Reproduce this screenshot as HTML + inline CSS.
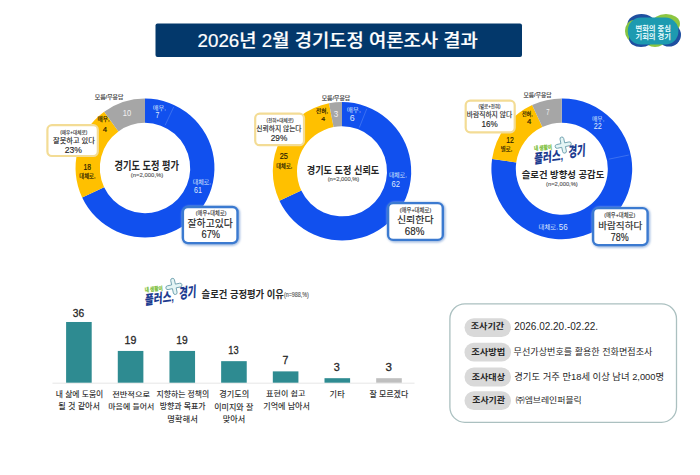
<!DOCTYPE html>
<html><head><meta charset="utf-8"><style>
html,body{margin:0;padding:0;background:#fff;width:700px;height:475px;overflow:hidden}
svg{display:block;font-family:"Liberation Sans","Noto Sans CJK KR",sans-serif}
</style></head><body>
<svg width="700" height="475" viewBox="0 0 700 475">
<defs><filter id="blur" x="-10%" y="-10%" width="120%" height="120%"><feGaussianBlur stdDeviation="0.8"/></filter></defs>
<rect x="155.5" y="23.5" width="366.5" height="33.5" rx="2" fill="#03386b"/>
<path d="M145.00,98.55 A69.45,69.45 0 1 1 82.16,197.57 L104.10,187.25 A45.2,45.2 0 1 0 145.00,122.80 Z" fill="#1150ee"/>
<path d="M82.16,197.57 A69.45,69.45 0 0 1 104.18,111.81 L118.43,131.43 A45.2,45.2 0 0 0 104.10,187.25 Z" fill="#ffc000"/>
<path d="M104.18,111.81 A69.45,69.45 0 0 1 145.00,98.55 L145.00,122.80 A45.2,45.2 0 0 0 118.43,131.43 Z" fill="#a6a6a6"/>
<line x1="165.10" y1="125.29" x2="173.72" y2="106.97" stroke="#5585f2" stroke-width="0.6"/>
<path d="M342.00,102.10 A69.2,69.2 0 1 1 279.39,200.76 L301.28,190.46 A45,45 0 1 0 342.00,126.30 Z" fill="#1150ee"/>
<path d="M279.39,200.76 A69.2,69.2 0 0 1 329.03,103.33 L333.57,127.10 A45,45 0 0 0 301.28,190.46 Z" fill="#ffc000"/>
<path d="M329.03,103.33 A69.2,69.2 0 0 1 342.00,102.10 L342.00,126.30 A45,45 0 0 0 333.57,127.10 Z" fill="#a6a6a6"/>
<line x1="359.30" y1="127.60" x2="366.74" y2="108.82" stroke="#5585f2" stroke-width="0.6"/>
<path d="M561.80,98.40 A70.4,70.4 0 1 1 492.09,158.98 L516.25,162.38 A46,46 0 1 0 561.80,122.80 Z" fill="#1150ee"/>
<path d="M492.09,158.98 A70.4,70.4 0 0 1 532.10,104.97 L542.40,127.09 A46,46 0 0 0 516.25,162.38 Z" fill="#ffc000"/>
<path d="M532.10,104.97 A70.4,70.4 0 0 1 561.80,98.40 L561.80,122.80 A46,46 0 0 0 542.40,127.09 Z" fill="#a6a6a6"/>
<line x1="608.82" y1="159.16" x2="628.81" y2="155.06" stroke="#5585f2" stroke-width="0.6"/>
<rect x="47.400000000000006" y="125.2" width="50.4" height="30.79999999999999" rx="4.5" fill="#fff" stroke="#f3dc95" stroke-width="2.2"/>
<rect x="183.70" y="207.80" width="54.60" height="36.10" rx="5.5" fill="none" stroke="#9fb9e0" stroke-width="3.5999999999999996" filter="url(#blur)"/><rect x="182.90" y="207.00" width="54.60" height="36.10" rx="5" fill="#fff" stroke="#3b7ad0" stroke-width="2.4"/>
<rect x="255.2" y="113.60000000000001" width="48.79999999999999" height="31.6" rx="4.5" fill="#fff" stroke="#f3dc95" stroke-width="2.2"/>
<rect x="388.90" y="203.90" width="54.70" height="36.80" rx="5.5" fill="none" stroke="#9fb9e0" stroke-width="3.5999999999999996" filter="url(#blur)"/><rect x="388.10" y="203.10" width="54.70" height="36.80" rx="5" fill="#fff" stroke="#3b7ad0" stroke-width="2.4"/>
<rect x="465.7" y="100.60000000000001" width="48.99999999999998" height="31.699999999999996" rx="4.5" fill="#fff" stroke="#f3dc95" stroke-width="2.2"/>
<rect x="593.90" y="208.90" width="54.50" height="37.00" rx="5.5" fill="none" stroke="#9fb9e0" stroke-width="3.5999999999999996" filter="url(#blur)"/><rect x="593.10" y="208.10" width="54.50" height="37.00" rx="5" fill="#fff" stroke="#3b7ad0" stroke-width="2.4"/>
<g transform="translate(533.6,137)">
<path transform="translate(29.6,8.1) rotate(-12)" d="M-1.9,-6.299999999999999 a1.9,1.9 0 0 1 3.8,0 L1.9,-1.9 L6.299999999999999,-1.9 a1.9,1.9 0 0 1 0,3.8 L1.9,1.9 L1.9,6.299999999999999 a1.9,1.9 0 0 1 -3.8,0 L-1.9,1.9 L-6.299999999999999,1.9 a1.9,1.9 0 0 1 0,-3.8 L-1.9,-1.9 Z" fill="#e4f5f5" stroke="#5f95a6" stroke-width="0.8" stroke-linejoin="round"/>
<g transform="translate(0.6,13.6) rotate(-5)"><text x="0" y="0" font-size="5.8" fill="#7dbf3c" stroke="#7dbf3c" stroke-width="0.25" font-weight="bold" textLength="18" lengthAdjust="spacingAndGlyphs">내 생활이</text></g>
<g transform="translate(0.4,26.8) rotate(-8) skewX(-10)"><text x="0" y="0" font-size="13" fill="#1c3b8f" font-weight="900" textLength="29.5" lengthAdjust="spacingAndGlyphs">플러스,</text></g>
<g transform="translate(34.6,20.6) rotate(-8) skewX(-10)"><text x="0" y="0" font-size="14.5" fill="#1c3b8f" font-weight="900" textLength="17.5" lengthAdjust="spacingAndGlyphs">경기</text></g>
</g>
<g transform="translate(144.3,278.3)">
<path transform="translate(29.6,8.1) rotate(-12)" d="M-1.9,-6.299999999999999 a1.9,1.9 0 0 1 3.8,0 L1.9,-1.9 L6.299999999999999,-1.9 a1.9,1.9 0 0 1 0,3.8 L1.9,1.9 L1.9,6.299999999999999 a1.9,1.9 0 0 1 -3.8,0 L-1.9,1.9 L-6.299999999999999,1.9 a1.9,1.9 0 0 1 0,-3.8 L-1.9,-1.9 Z" fill="#e4f5f5" stroke="#5f95a6" stroke-width="0.8" stroke-linejoin="round"/>
<g transform="translate(0.6,13.6) rotate(-5)"><text x="0" y="0" font-size="5.8" fill="#7dbf3c" stroke="#7dbf3c" stroke-width="0.25" font-weight="bold" textLength="18" lengthAdjust="spacingAndGlyphs">내 생활이</text></g>
<g transform="translate(0.4,26.8) rotate(-8) skewX(-10)"><text x="0" y="0" font-size="13" fill="#1c3b8f" font-weight="900" textLength="29.5" lengthAdjust="spacingAndGlyphs">플러스,</text></g>
<g transform="translate(34.6,20.6) rotate(-8) skewX(-10)"><text x="0" y="0" font-size="14.5" fill="#1c3b8f" font-weight="900" textLength="17.5" lengthAdjust="spacingAndGlyphs">경기</text></g>
</g>
<line x1="52.5" y1="383.2" x2="414.5" y2="383.2" stroke="#e3e3e3" stroke-width="0.9"/>
<rect x="66.10" y="321.99" width="25.6" height="60.71" fill="#2e8b91"/>
<rect x="117.78" y="350.94" width="25.6" height="31.76" fill="#2e8b91"/>
<rect x="169.46" y="350.94" width="25.6" height="31.76" fill="#2e8b91"/>
<rect x="221.14" y="361.16" width="25.6" height="21.54" fill="#2e8b91"/>
<rect x="272.82" y="371.38" width="25.6" height="11.32" fill="#2e8b91"/>
<rect x="324.50" y="378.19" width="25.6" height="4.51" fill="#2e8b91"/>
<rect x="376.18" y="378.19" width="25.6" height="4.51" fill="#bfbfbf"/>
<rect x="449.9" y="303.9" width="226.6" height="118.4" rx="15" fill="#fff" stroke="#abc0c0" stroke-width="1.3"/>
<rect x="464.5" y="318.20" width="46.5" height="18.8" rx="9.4" fill="#d9d9d9"/>
<rect x="464.5" y="342.80" width="46.5" height="18.8" rx="9.4" fill="#d9d9d9"/>
<rect x="464.5" y="367.60" width="46.5" height="18.8" rx="9.4" fill="#d9d9d9"/>
<rect x="464.5" y="391.30" width="46.5" height="18.8" rx="9.4" fill="#d9d9d9"/>
<g>
<ellipse cx="641.5" cy="24" rx="14" ry="10" fill="#1f4fa0"/>
<ellipse cx="666" cy="23.8" rx="14" ry="9.8" fill="#8dc641"/>
<ellipse cx="634" cy="31" rx="9" ry="11" fill="#86c443"/>
<ellipse cx="669" cy="35" rx="12" ry="11.5" fill="#1f4fa0"/>
<ellipse cx="655" cy="40" rx="10" ry="7" fill="#8dc641"/>
<ellipse cx="641" cy="39" rx="12" ry="8" fill="#1f4fa0"/>
<rect x="627.8" y="17.6" width="50.6" height="27" rx="13" fill="#1d9ab0"/>
<text x="653.2" y="30.8" font-size="7.4" fill="#eafcff" font-weight="bold" text-anchor="middle" textLength="35.5" lengthAdjust="spacingAndGlyphs">변화의 중심</text>
<text x="653.2" y="38.6" font-size="7.4" fill="#eafcff" font-weight="bold" text-anchor="middle" textLength="35.5" lengthAdjust="spacingAndGlyphs">기회의 경기</text>
</g>
<text id="title" stroke="#ffffff" stroke-width="0.2" x="337.60" y="46.52" font-size="17.72" font-weight="500" fill="#ffffff" text-anchor="middle" textLength="280.15" lengthAdjust="spacingAndGlyphs">2026년 2월 경기도정 여론조사 결과</text>
<text id="d1_mr" stroke="#333333" stroke-width="0.15" x="109.06" y="98.79" font-size="5.40" font-weight="normal" fill="#333333" text-anchor="middle" textLength="28.53" lengthAdjust="spacingAndGlyphs">모름/무응답</text>
<text id="d1_g" x="127.02" y="116.29" font-size="8.86" font-weight="normal" fill="#f2f2f2" text-anchor="middle" textLength="8.41" lengthAdjust="spacingAndGlyphs">10</text>
<text id="d1_ya" stroke="#2a2000" stroke-width="0.18" x="103.58" y="121.13" font-size="5.35" font-weight="normal" fill="#2a2000" text-anchor="middle" textLength="12.16" lengthAdjust="spacingAndGlyphs">매우,</text>
<text id="d1_yn" stroke="#2a2000" stroke-width="0.18" x="104.85" y="131.53" font-size="6.86" font-weight="normal" fill="#2a2000" text-anchor="middle" textLength="4.32" lengthAdjust="spacingAndGlyphs">4</text>
<text id="d1_y2n" stroke="#2a2000" stroke-width="0.18" x="87.25" y="170.05" font-size="8.47" font-weight="normal" fill="#2a2000" text-anchor="middle" textLength="7.51" lengthAdjust="spacingAndGlyphs">18</text>
<text id="d1_y2a" stroke="#2a2000" stroke-width="0.18" x="87.38" y="177.81" font-size="5.35" font-weight="normal" fill="#2a2000" text-anchor="middle" textLength="16.10" lengthAdjust="spacingAndGlyphs">대체로,</text>
<text id="d1_ba" x="159.48" y="109.98" font-size="5.35" font-weight="normal" fill="#dfe8fc" text-anchor="middle" textLength="13.26" lengthAdjust="spacingAndGlyphs">매우,</text>
<text id="d1_bn" x="157.46" y="117.73" font-size="8.34" font-weight="normal" fill="#dfe8fc" text-anchor="middle" textLength="3.89" lengthAdjust="spacingAndGlyphs">7</text>
<text id="d1_b2a" x="201.83" y="184.00" font-size="5.35" font-weight="normal" fill="#dfe8fc" text-anchor="middle" textLength="18.41" lengthAdjust="spacingAndGlyphs">대체로,</text>
<text id="d1_b2n" x="198.00" y="192.98" font-size="8.29" font-weight="normal" fill="#dfe8fc" text-anchor="middle" textLength="7.89" lengthAdjust="spacingAndGlyphs">61</text>
<text id="d1_c" x="146.75" y="170.27" font-size="11.07" font-weight="bold" fill="#262626" text-anchor="middle" textLength="64.47" lengthAdjust="spacingAndGlyphs">경기도 도정 평가</text>
<text id="d1_n" stroke="#595959" stroke-width="0.15" x="147.06" y="176.58" font-size="6.09" font-weight="normal" fill="#595959" text-anchor="middle" textLength="32.43" lengthAdjust="spacingAndGlyphs">(n=2,000,%)</text>
<text id="d1_ys" stroke="#2e2e2e" stroke-width="0.1" x="73.73" y="134.49" font-size="5.00" font-weight="normal" fill="#2e2e2e" text-anchor="middle" textLength="27.02" lengthAdjust="spacingAndGlyphs">(매우+대체로)</text>
<text id="d1_ym" stroke="#262626" stroke-width="0.15" x="74.00" y="142.80" font-size="6.72" font-weight="normal" fill="#262626" text-anchor="middle" textLength="41.79" lengthAdjust="spacingAndGlyphs">잘못하고 있다</text>
<text id="d1_yp" stroke="#262626" stroke-width="0.15" x="73.33" y="153.20" font-size="9.87" font-weight="normal" fill="#262626" text-anchor="middle" textLength="17.25" lengthAdjust="spacingAndGlyphs">23%</text>
<text id="d1_bs" stroke="#2e2e2e" stroke-width="0.1" x="211.16" y="215.26" font-size="5.40" font-weight="normal" fill="#2e2e2e" text-anchor="middle" textLength="30.60" lengthAdjust="spacingAndGlyphs">(매우+대체로)</text>
<text id="d1_bm" stroke="#262626" stroke-width="0.15" x="210.15" y="227.00" font-size="9.78" font-weight="normal" fill="#262626" text-anchor="middle" textLength="45.09" lengthAdjust="spacingAndGlyphs">잘하고있다</text>
<text id="d1_bp" stroke="#262626" stroke-width="0.15" x="210.84" y="238.36" font-size="10.01" font-weight="normal" fill="#262626" text-anchor="middle" textLength="18.50" lengthAdjust="spacingAndGlyphs">67%</text>
<text id="d2_mr" stroke="#333333" stroke-width="0.15" x="335.95" y="99.62" font-size="5.40" font-weight="normal" fill="#333333" text-anchor="middle" textLength="28.43" lengthAdjust="spacingAndGlyphs">모름/무응답</text>
<text id="d2_g" x="335.91" y="116.74" font-size="8.34" font-weight="normal" fill="#f2f2f2" text-anchor="middle" textLength="4.50" lengthAdjust="spacingAndGlyphs">3</text>
<text id="d2_ya" stroke="#2a2000" stroke-width="0.18" x="322.10" y="112.71" font-size="5.35" font-weight="normal" fill="#2a2000" text-anchor="middle" textLength="12.02" lengthAdjust="spacingAndGlyphs">전혀,</text>
<text id="d2_yn" stroke="#2a2000" stroke-width="0.18" x="323.27" y="120.75" font-size="5.84" font-weight="normal" fill="#2a2000" text-anchor="middle" textLength="3.91" lengthAdjust="spacingAndGlyphs">4</text>
<text id="d2_y2n" stroke="#2a2000" stroke-width="0.18" x="283.73" y="158.83" font-size="9.20" font-weight="normal" fill="#2a2000" text-anchor="middle" textLength="8.21" lengthAdjust="spacingAndGlyphs">25</text>
<text id="d2_y2a" stroke="#2a2000" stroke-width="0.18" x="284.23" y="168.00" font-size="5.35" font-weight="normal" fill="#2a2000" text-anchor="middle" textLength="15.93" lengthAdjust="spacingAndGlyphs">대체로,</text>
<text id="d2_ba" x="353.76" y="111.90" font-size="5.35" font-weight="normal" fill="#dfe8fc" text-anchor="middle" textLength="14.12" lengthAdjust="spacingAndGlyphs">매우,</text>
<text id="d2_bn" x="352.14" y="120.81" font-size="8.86" font-weight="normal" fill="#dfe8fc" text-anchor="middle" textLength="4.95" lengthAdjust="spacingAndGlyphs">6</text>
<text id="d2_b2a" x="397.90" y="177.40" font-size="5.35" font-weight="normal" fill="#dfe8fc" text-anchor="middle" textLength="17.90" lengthAdjust="spacingAndGlyphs">대체로,</text>
<text id="d2_b2n" x="395.65" y="186.95" font-size="8.86" font-weight="normal" fill="#dfe8fc" text-anchor="middle" textLength="8.45" lengthAdjust="spacingAndGlyphs">62</text>
<text id="d2_c" x="343.00" y="174.37" font-size="10.71" font-weight="bold" fill="#262626" text-anchor="middle" textLength="72.50" lengthAdjust="spacingAndGlyphs">경기도 도정 신뢰도</text>
<text id="d2_n" stroke="#595959" stroke-width="0.15" x="343.51" y="181.33" font-size="5.95" font-weight="normal" fill="#595959" text-anchor="middle" textLength="31.59" lengthAdjust="spacingAndGlyphs">(n=2,000,%)</text>
<text id="d2_ys" stroke="#2e2e2e" stroke-width="0.1" x="280.00" y="121.90" font-size="5.00" font-weight="normal" fill="#2e2e2e" text-anchor="middle" textLength="27.14" lengthAdjust="spacingAndGlyphs">(전혀+대체로)</text>
<text id="d2_ym" stroke="#262626" stroke-width="0.15" x="278.94" y="130.89" font-size="6.60" font-weight="normal" fill="#262626" text-anchor="middle" textLength="45.29" lengthAdjust="spacingAndGlyphs">신뢰하지 않는다</text>
<text id="d2_yp" stroke="#262626" stroke-width="0.15" x="279.00" y="140.78" font-size="9.98" font-weight="normal" fill="#262626" text-anchor="middle" textLength="16.53" lengthAdjust="spacingAndGlyphs">29%</text>
<text id="d2_bs" stroke="#2e2e2e" stroke-width="0.1" x="415.50" y="211.75" font-size="5.40" font-weight="normal" fill="#2e2e2e" text-anchor="middle" textLength="31.55" lengthAdjust="spacingAndGlyphs">(매우+대체로)</text>
<text id="d2_bm" stroke="#262626" stroke-width="0.15" x="415.25" y="223.35" font-size="9.34" font-weight="normal" fill="#262626" text-anchor="middle" textLength="36.60" lengthAdjust="spacingAndGlyphs">신뢰한다</text>
<text id="d2_bp" stroke="#262626" stroke-width="0.15" x="414.60" y="235.16" font-size="10.58" font-weight="normal" fill="#262626" text-anchor="middle" textLength="19.50" lengthAdjust="spacingAndGlyphs">68%</text>
<text id="d3_mr" stroke="#333333" stroke-width="0.15" x="537.50" y="97.05" font-size="5.40" font-weight="normal" fill="#333333" text-anchor="middle" textLength="27.90" lengthAdjust="spacingAndGlyphs">모름/무응답</text>
<text id="d3_g" x="547.82" y="114.81" font-size="9.20" font-weight="normal" fill="#f2f2f2" text-anchor="middle" textLength="3.24" lengthAdjust="spacingAndGlyphs">7</text>
<text id="d3_ya" stroke="#2a2000" stroke-width="0.18" x="527.30" y="115.72" font-size="5.35" font-weight="normal" fill="#2a2000" text-anchor="middle" textLength="10.79" lengthAdjust="spacingAndGlyphs">전혀,</text>
<text id="d3_yn" stroke="#2a2000" stroke-width="0.18" x="529.26" y="123.92" font-size="6.29" font-weight="normal" fill="#2a2000" text-anchor="middle" textLength="4.30" lengthAdjust="spacingAndGlyphs">4</text>
<text id="d3_y2n" stroke="#2a2000" stroke-width="0.18" x="510.05" y="143.15" font-size="8.47" font-weight="normal" fill="#2a2000" text-anchor="middle" textLength="7.64" lengthAdjust="spacingAndGlyphs">12</text>
<text id="d3_y2a" stroke="#2a2000" stroke-width="0.18" x="506.53" y="151.40" font-size="5.35" font-weight="normal" fill="#2a2000" text-anchor="middle" textLength="11.40" lengthAdjust="spacingAndGlyphs">별로,</text>
<text id="d3_ba" x="598.15" y="121.04" font-size="5.35" font-weight="normal" fill="#dfe8fc" text-anchor="middle" textLength="12.43" lengthAdjust="spacingAndGlyphs">매우,</text>
<text id="d3_bn" x="597.72" y="128.86" font-size="8.47" font-weight="normal" fill="#dfe8fc" text-anchor="middle" textLength="8.04" lengthAdjust="spacingAndGlyphs">22</text>
<text id="d3_b2a" x="548.29" y="229.04" font-size="5.35" font-weight="normal" fill="#dfe8fc" text-anchor="middle" textLength="19.38" lengthAdjust="spacingAndGlyphs">대체로,</text>
<text id="d3_b2n" x="563.16" y="230.16" font-size="8.14" font-weight="normal" fill="#dfe8fc" text-anchor="middle" textLength="8.93" lengthAdjust="spacingAndGlyphs">56</text>
<text id="d3_c" x="563.00" y="177.93" font-size="9.61" font-weight="bold" fill="#262626" text-anchor="middle" textLength="82.50" lengthAdjust="spacingAndGlyphs">슬로건 방향성 공감도</text>
<text id="d3_n" stroke="#595959" stroke-width="0.15" x="561.95" y="186.47" font-size="5.79" font-weight="normal" fill="#595959" text-anchor="middle" textLength="31.70" lengthAdjust="spacingAndGlyphs">(n=2,000,%)</text>
<text id="d3_ys" stroke="#2e2e2e" stroke-width="0.1" x="489.49" y="107.89" font-size="5.00" font-weight="normal" fill="#2e2e2e" text-anchor="middle" textLength="22.05" lengthAdjust="spacingAndGlyphs">(별로+전혀)</text>
<text id="d3_ym" stroke="#262626" stroke-width="0.15" x="489.44" y="116.94" font-size="7.31" font-weight="normal" fill="#262626" text-anchor="middle" textLength="45.42" lengthAdjust="spacingAndGlyphs">바람직하지 않다</text>
<text id="d3_yp" stroke="#262626" stroke-width="0.15" x="489.60" y="127.20" font-size="9.40" font-weight="normal" fill="#262626" text-anchor="middle" textLength="16.27" lengthAdjust="spacingAndGlyphs">16%</text>
<text id="d3_bs" stroke="#2e2e2e" stroke-width="0.1" x="619.69" y="216.89" font-size="5.40" font-weight="normal" fill="#2e2e2e" text-anchor="middle" textLength="30.94" lengthAdjust="spacingAndGlyphs">(매우+대체로)</text>
<text id="d3_bm" stroke="#262626" stroke-width="0.15" x="620.24" y="228.62" font-size="8.76" font-weight="normal" fill="#262626" text-anchor="middle" textLength="44.13" lengthAdjust="spacingAndGlyphs">바람직하다</text>
<text id="d3_bp" stroke="#262626" stroke-width="0.15" x="619.78" y="240.50" font-size="10.11" font-weight="normal" fill="#262626" text-anchor="middle" textLength="17.92" lengthAdjust="spacingAndGlyphs">78%</text>
<text id="bt" x="242.75" y="297.95" font-size="9.81" font-weight="bold" fill="#262626" text-anchor="middle" textLength="82.30" lengthAdjust="spacingAndGlyphs">슬로건 긍정평가 이유</text>
<text id="bt_n" stroke="#595959" stroke-width="0.15" x="296.40" y="297.05" font-size="6.72" font-weight="normal" fill="#595959" text-anchor="middle" textLength="24.97" lengthAdjust="spacingAndGlyphs">(n=988,%)</text>
<text id="v1" stroke="#262626" stroke-width="0.3" x="78.50" y="316.64" font-size="11.84" font-weight="normal" fill="#262626" text-anchor="middle" textLength="11.40" lengthAdjust="spacingAndGlyphs">36</text>
<text id="v2" stroke="#262626" stroke-width="0.3" x="130.46" y="343.99" font-size="11.47" font-weight="normal" fill="#262626" text-anchor="middle" textLength="11.84" lengthAdjust="spacingAndGlyphs">19</text>
<text id="v3" stroke="#262626" stroke-width="0.3" x="182.04" y="343.85" font-size="11.64" font-weight="normal" fill="#262626" text-anchor="middle" textLength="11.40" lengthAdjust="spacingAndGlyphs">19</text>
<text id="v4" stroke="#262626" stroke-width="0.3" x="233.44" y="353.92" font-size="11.79" font-weight="normal" fill="#262626" text-anchor="middle" textLength="10.30" lengthAdjust="spacingAndGlyphs">13</text>
<text id="v5" stroke="#262626" stroke-width="0.3" x="285.51" y="364.01" font-size="11.58" font-weight="normal" fill="#262626" text-anchor="middle" textLength="5.86" lengthAdjust="spacingAndGlyphs">7</text>
<text id="v6" stroke="#262626" stroke-width="0.3" x="336.82" y="370.63" font-size="11.62" font-weight="normal" fill="#262626" text-anchor="middle" textLength="6.07" lengthAdjust="spacingAndGlyphs">3</text>
<text id="v7" stroke="#262626" stroke-width="0.3" x="388.80" y="370.73" font-size="11.53" font-weight="normal" fill="#262626" text-anchor="middle" textLength="6.44" lengthAdjust="spacingAndGlyphs">3</text>
<text id="l1a" x="79.55" y="397.45" font-size="7.45" font-weight="500" fill="#333333" text-anchor="middle" textLength="47.59" lengthAdjust="spacingAndGlyphs">내 삶에 도움이</text>
<text id="l1b" x="79.15" y="409.32" font-size="8.32" font-weight="500" fill="#333333" text-anchor="middle" textLength="41.62" lengthAdjust="spacingAndGlyphs">될 것 같아서</text>
<text id="l2a" x="131.16" y="396.66" font-size="7.38" font-weight="500" fill="#333333" text-anchor="middle" textLength="37.96" lengthAdjust="spacingAndGlyphs">전반적으로</text>
<text id="l2b" x="131.30" y="409.28" font-size="7.18" font-weight="500" fill="#333333" text-anchor="middle" textLength="45.94" lengthAdjust="spacingAndGlyphs">마음에 들어서</text>
<text id="l3a" x="182.90" y="397.18" font-size="7.46" font-weight="500" fill="#333333" text-anchor="middle" textLength="52.70" lengthAdjust="spacingAndGlyphs">지향하는 정책의</text>
<text id="l3b" x="182.65" y="409.14" font-size="7.85" font-weight="500" fill="#333333" text-anchor="middle" textLength="45.88" lengthAdjust="spacingAndGlyphs">방향과 목표가</text>
<text id="l3c" x="182.50" y="422.18" font-size="7.46" font-weight="500" fill="#333333" text-anchor="middle" textLength="30.58" lengthAdjust="spacingAndGlyphs">명확해서</text>
<text id="l4a" x="234.30" y="396.53" font-size="7.67" font-weight="500" fill="#333333" text-anchor="middle" textLength="29.98" lengthAdjust="spacingAndGlyphs">경기도의</text>
<text id="l4b" x="233.71" y="409.52" font-size="7.46" font-weight="500" fill="#333333" text-anchor="middle" textLength="39.10" lengthAdjust="spacingAndGlyphs">이미지와 잘</text>
<text id="l4c" x="234.06" y="422.01" font-size="7.61" font-weight="500" fill="#333333" text-anchor="middle" textLength="22.45" lengthAdjust="spacingAndGlyphs">맞아서</text>
<text id="l5a" x="285.70" y="395.87" font-size="7.19" font-weight="500" fill="#333333" text-anchor="middle" textLength="39.14" lengthAdjust="spacingAndGlyphs">표현이 쉽고</text>
<text id="l5b" x="286.60" y="409.45" font-size="7.45" font-weight="500" fill="#333333" text-anchor="middle" textLength="46.65" lengthAdjust="spacingAndGlyphs">기억에 남아서</text>
<text id="l6" x="337.15" y="396.85" font-size="7.45" font-weight="500" fill="#333333" text-anchor="middle" textLength="15.07" lengthAdjust="spacingAndGlyphs">기타</text>
<text id="l7" x="388.85" y="397.41" font-size="8.21" font-weight="500" fill="#333333" text-anchor="middle" textLength="38.78" lengthAdjust="spacingAndGlyphs">잘 모르겠다</text>
<text id="k1" x="487.50" y="329.14" font-size="7.85" font-weight="bold" fill="#262626" text-anchor="middle" textLength="33.50" lengthAdjust="spacingAndGlyphs">조사기간</text>
<text id="k2" x="488.29" y="354.70" font-size="8.39" font-weight="bold" fill="#262626" text-anchor="middle" textLength="34.04" lengthAdjust="spacingAndGlyphs">조사방법</text>
<text id="k3" x="488.32" y="379.81" font-size="8.32" font-weight="bold" fill="#262626" text-anchor="middle" textLength="33.26" lengthAdjust="spacingAndGlyphs">조사대상</text>
<text id="k4" x="488.60" y="402.99" font-size="8.45" font-weight="bold" fill="#262626" text-anchor="middle" textLength="32.79" lengthAdjust="spacingAndGlyphs">조사기관</text>
<text id="i1" x="556.12" y="330.14" font-size="10.11" font-weight="normal" fill="#262626" text-anchor="middle" textLength="83.83" lengthAdjust="spacingAndGlyphs">2026.02.20.-02.22.</text>
<text id="i2" x="583.00" y="354.89" font-size="8.58" font-weight="normal" fill="#262626" text-anchor="middle" textLength="138.73" lengthAdjust="spacingAndGlyphs">무선가상번호를 활용한 전화면접조사</text>
<text id="i3" x="589.20" y="380.47" font-size="9.16" font-weight="normal" fill="#262626" text-anchor="middle" textLength="149.82" lengthAdjust="spacingAndGlyphs">경기도 거주 만18세 이상 남녀 2,000명</text>
<text id="i4" x="548.75" y="402.73" font-size="8.00" font-weight="normal" fill="#262626" text-anchor="middle" textLength="65.96" lengthAdjust="spacingAndGlyphs">㈜엠브레인퍼블릭</text>
</svg>
</body></html>
